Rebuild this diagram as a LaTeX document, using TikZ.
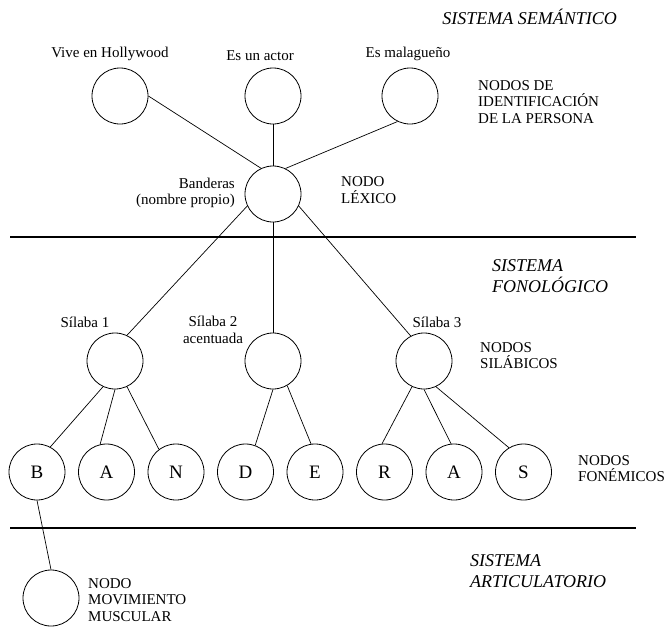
\documentclass[tikz,border=0pt]{standalone}
\usepackage{fontspec}
\setmainfont{Liberation Serif}
\usetikzlibrary{positioning}

\begin{document}
\begin{tikzpicture}[
    x=1pt, y=-1pt,
    font=\fontsize{15}{16.5}\selectfont,
    node distance=6pt and 12.7pt, % vertical y horizontal
    % --- estilos ---
    % nodos (circulos)
    nodo/.style={draw, circle, minimum size=56pt, inner sep=0pt, line width=0.8pt},
    % nodos fonemicos: letra mas grande
    fon/.style={nodo, font=\fontsize{19}{19}\selectfont},
    % textos
    lbl/.style={inner sep=1pt, align=left},
    % nombres de sistema (cursiva)
    sis/.style={lbl, inner sep=0pt, font=\fontsize{18}{21}\selectfont\itshape},
    % conexiones
    link/.style={line width=0.7pt},
    sep/.style={line width=2.4pt}
]
\useasboundingbox (0,0) rectangle (668,629);

% --- 1. Sistema semantico ---

\node[sis, anchor=east] (sem) at (617,17) {SISTEMA SEMÁNTICO};

\node[nodo] (vive) at (120,96) {};
\node[nodo] (actor) at (273,96) {};
\node[nodo] (mala) at (410,96) {};

\node[lbl, above=6pt of vive, xshift=-10pt] (viveL) {Vive en Hollywood};
\node[lbl, above=6pt of actor, xshift=-13pt] (actorL) {Es un actor};
\node[lbl, above=6pt of mala, xshift=-2pt] (malaL) {Es malagueño};

\node[lbl, anchor=north west] (ident) at (477,79) {NODOS DE\\IDENTIFICACIÓN\\DE LA PERSONA};

% Nodo lexico
\node[nodo] (band) at (273,194) {};
\node[lbl, align=right, anchor=east] (bandL) at (236,193) {Banderas\\(nombre propio)};
\node[lbl, anchor=west] (lex) at (340,190) {NODO\\LÉXICO};

\draw[link] (vive.east) -- (band.115);
\draw[link] (actor.south) -- (band.north);
\draw[link] (mala.244) -- (band.64);

% --- 2. Sistema fonologico ---

\draw[sep] (10,236.7) -- (636,236.7);

\node[sis, anchor=north west] (fono) at (492,259) {SISTEMA\\FONOLÓGICO};

% Nodos silabicos
\node[nodo] (sil1) at (115,361) {};
\node[nodo] (sil2) at (273,361) {};
\node[nodo] (sil3) at (424,361) {};

\node[lbl] (sil1L) at (85,322) {Sílaba 1};
\node[lbl, align=center] (sil2L) at (213,330) {Sílaba 2\\acentuada};
\node[lbl] (sil3L) at (437,322) {Sílaba 3};

\node[lbl, anchor=north west] (silab) at (479,341) {NODOS\\SILÁBICOS};

\draw[link] (band.205) -- (sil1.65);
\draw[link] (band.south) -- (sil2.north);
\draw[link] (band.335) -- (sil3.118);

% Nodos fonemicos
\node[fon] (B) at (37,472) {B};
\node[fon, right=of B] (A1) {A};
\node[fon, right=of A1] (N) {N};
\node[fon, right=of N] (D) {D};
\node[fon, right=of D] (E) {E};
\node[fon, right=of E] (R) {R};
\node[fon, right=of R] (A2) {A};
\node[fon, right=of A2] (S) {S};

\node[lbl, anchor=north west] (fonem) at (577,454) {NODOS\\FONÉMICOS};

\draw[link] (sil1.245) -- (B.62);
\draw[link] (sil1.south) -- (A1.103);
\draw[link] (sil1.295) -- (N.127);
\draw[link] (sil2.south) -- (D.70);
\draw[link] (sil2.300) -- (E.98);
\draw[link] (sil3.245) -- (R.95);
\draw[link] (sil3.south) -- (A2.96);
\draw[link] (sil3.295) -- (S.121);

% --- 3. Sistema articulatorio ---

\draw[sep] (10,528) -- (636,528);

\node[sis, anchor=north west] (artic) at (470,554) {SISTEMA\\ARTICULATORIO};

\node[nodo] (musc) at (51,598) {};
\node[lbl, anchor=north west] (muscL) at (87,577) {NODO\\MOVIMIENTO\\MUSCULAR};

\draw[link] (B.south) -- (musc.north);

\end{tikzpicture}
\end{document}
